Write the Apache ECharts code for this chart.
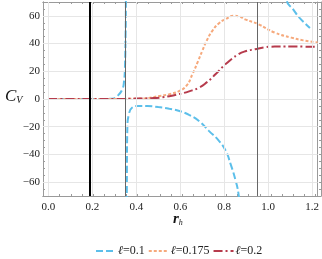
<!DOCTYPE html>
<html><head><meta charset="utf-8">
<script src="https://cdn.jsdelivr.net/npm/echarts@6/dist/echarts.min.js"></script>
<style>html,body{margin:0;padding:0;background:#fff}#c{width:322px;height:259px}</style>
</head><body><div id="c"></div>
<script>
// ---- data ----
// ℓ = 0.1 (three visible branches)
const rBlueA = [0, 0.05, 0.1, 0.15, 0.2, 0.25, 0.28, 0.291, 0.314, 0.336, 0.344, 0.348, 0.351, 0.352, 0.3535];
const cBlueA = [0, 0, 0, 0, 0, 0.05, 0.1, 0.2, 2.2, 7, 13, 22.6, 47, 58, 140];
const rBlueB = [0.3555, 0.357, 0.359, 0.366, 0.38, 0.411, 0.45, 0.5, 0.55, 0.596, 0.64, 0.685, 0.73, 0.775, 0.807, 0.829, 0.852, 0.865, 0.872];
const cBlueB = [-140, -50, -20.7, -11, -6.3, -5, -5.1, -5.8, -7, -8.7, -11.5, -15.9, -23, -30, -37.5, -47, -59, -68.6, -80];
const rBlueC = [1.078, 1.085, 1.113, 1.142, 1.18, 1.19];
const cBlueC = [85, 70.8, 64.8, 58.7, 52.7, 51.2];
// ℓ = 0.175
const rOrange = [0, 0.1, 0.2, 0.3, 0.4, 0.456, 0.506, 0.55, 0.596, 0.63, 0.655, 0.68, 0.70, 0.72, 0.745, 0.775, 0.805, 0.843, 0.87, 0.895, 0.955, 1.03, 1.105, 1.16, 1.225];
const cOrange = [0, 0, 0, 0, 0.3, 0.8, 2.2, 3.5, 5.8, 10, 17.8, 27, 34.7, 42, 49, 54.5, 57.5, 60, 59.5, 57.5, 54, 47.9, 44.3, 42.3, 40.7];
// ℓ = 0.2
const rRed = [0, 0.1, 0.2, 0.3, 0.4, 0.47, 0.506, 0.55, 0.596, 0.64, 0.685, 0.72, 0.76, 0.805, 0.865, 0.9, 0.94, 0.98, 1.03, 1.1, 1.16, 1.225];
const cRed = [0, 0, 0, 0, 0.3, 0.6, 1, 2, 3.6, 5.5, 8.2, 12, 17.8, 25, 32.3, 34.6, 35.9, 37.2, 37.8, 37.9, 37.8, 37.7];
// vertical reference lines
const vBlack = [0.194];
const vGray = [0.354, 0.95];
// ticks
const xMajor = [0, 0.2, 0.4, 0.6, 0.8, 1.0, 1.2];
const xMinor = [0, 0.05, 0.1, 0.15, 0.2, 0.25, 0.3, 0.35, 0.4, 0.45, 0.5, 0.55, 0.6, 0.65, 0.7, 0.75, 0.8, 0.85, 0.9, 0.95, 1.0, 1.05, 1.1, 1.15, 1.2];
const yMajor = [-60, -40, -20, 0, 20, 40, 60];
const yMinor = [-70, -65, -60, -55, -50, -45, -40, -35, -30, -25, -20, -15, -10, -5, 0, 5, 10, 15, 20, 25, 30, 35, 40, 45, 50, 55, 60, 65, 70];
const names = ['ℓ=0.1', 'ℓ=0.175', 'ℓ=0.2'];

const zip = (a, b) => a.map((v, i) => [v, b[i]]);
const FONT = '"Liberation Serif","DejaVu Serif",serif';
const FRAME = '#9a9a9a';
const BLUE = '#5cbfea', ORANGE = '#f6a97c', RED = '#b63b4c';

function xAx(grid, pos, ticks, len, labels) {
  return {
    type: 'value', gridIndex: grid, position: pos, min: -0.025, max: 1.225,
    axisLine: {show: true, onZero: false, lineStyle: {color: FRAME, width: 1}},
    axisTick: {show: true, inside: true, length: len, customValues: ticks, lineStyle: {color: FRAME}},
    axisLabel: labels ? {show: true, customValues: ticks, margin: 6, color: '#222', fontFamily: FONT, fontSize: 11,
      formatter: v => v.toFixed(1)} : {show: false},
    splitLine: {show: false}
  };
}
function yAx(grid, pos, ticks, len, labels) {
  return {
    type: 'value', gridIndex: grid, position: pos, min: -70, max: 70,
    axisLine: {show: true, onZero: false, lineStyle: {color: FRAME, width: 1}},
    axisTick: {show: true, inside: true, length: len, customValues: ticks, lineStyle: {color: FRAME}},
    axisLabel: labels ? {show: true, customValues: ticks, margin: 3, color: '#222', fontFamily: FONT, fontSize: 11,
      formatter: v => (v < 0 ? '\u2212' + Math.abs(v) : String(v))} : {show: false},
    splitLine: {show: false}
  };
}

const gridLines = [];
xMajor.forEach(v => gridLines.push({xAxis: v, lineStyle: {color: '#e6e6e6', width: 1, type: 'solid'}}));
yMajor.forEach(v => gridLines.push({yAxis: v, lineStyle: {color: '#e6e6e6', width: 1, type: 'solid'}}));
vGray.forEach(v => gridLines.push({xAxis: v, lineStyle: {color: '#666', width: 1, type: 'solid'}}));
vBlack.forEach(v => gridLines.push({xAxis: v, lineStyle: {color: '#000', width: 2, type: 'solid'}}));

const lineBase = {type: 'line', xAxisIndex: 0, yAxisIndex: 0, showSymbol: false, symbol: 'none',
  smooth: 0.5, clip: true, z: 3};
const blueStyle = {color: BLUE, width: 2, type: [7, 3]};
const orangeStyle = {color: ORANGE, width: 2, type: [3, 2]};
const redStyle = {color: RED, width: 2, type: [9, 3, 2, 3]};

const chart = echarts.init(document.getElementById('c'), null, {renderer: 'canvas'});
chart.setOption({
  animation: false,
  backgroundColor: '#fff',
  grid: [
    {left: 43, right: 1, top: 2, bottom: 63},
    {left: 43, right: 1, top: 2, bottom: 63}
  ],
  xAxis: [xAx(0, 'bottom', xMajor, 4, true), xAx(0, 'top', xMajor, 4, false),
          xAx(1, 'bottom', xMinor, 2, false), xAx(1, 'top', xMinor, 2, false)],
  yAxis: [yAx(0, 'left', yMajor, 4, true), yAx(0, 'right', yMajor, 4, false),
          yAx(1, 'left', yMinor, 2, false), yAx(1, 'right', yMinor, 2, false)],
  legend: {
    data: names, left: 90, top: 240, itemWidth: 20, itemHeight: 8, itemGap: 3,
    itemStyle: {opacity: 0},
    formatter: n => '{i|ℓ}' + n.slice(1),
    textStyle: {fontFamily: FONT, fontSize: 12, color: '#222', padding: [0, 0, 0, -3],
      rich: {i: {fontFamily: FONT, fontStyle: 'italic', fontSize: 12, color: '#222'}}}
  },
  graphic: [
    {type: 'text', left: 5, top: 88, style: {
      text: '{c|C}{s|V}', rich: {
        c: {fontFamily: FONT, fontStyle: 'italic', fontSize: 17, fill: '#111'},
        s: {fontFamily: FONT, fontStyle: 'italic', fontSize: 10, fill: '#111', padding: [8, 0, 0, 0]}
      }}},
    {type: 'text', left: 173, top: 212, style: {
      text: '{c|r}{s|h}', rich: {
        c: {fontFamily: FONT, fontStyle: 'italic', fontWeight: 'bold', fontSize: 15, fill: '#111'},
        s: {fontFamily: FONT, fontStyle: 'italic', fontSize: 8, fill: '#111', padding: [7, 0, 0, 0]}
      }}}
  ],
  series: [
    {type: 'line', name: 'frame', xAxisIndex: 0, yAxisIndex: 0, data: [[0, 0]], symbol: 'none',
      lineStyle: {opacity: 0}, silent: true, z: 1,
      markLine: {silent: true, symbol: ['none', 'none'], label: {show: false}, animation: false, data: gridLines}},
    Object.assign({}, lineBase, {name: names[0], data: zip(rBlueA, cBlueA), lineStyle: blueStyle, itemStyle: {color: BLUE}}),
    Object.assign({}, lineBase, {name: names[0], data: zip(rBlueB, cBlueB), lineStyle: blueStyle, itemStyle: {color: BLUE}}),
    Object.assign({}, lineBase, {name: names[0], data: zip(rBlueC, cBlueC), lineStyle: blueStyle, itemStyle: {color: BLUE}}),
    Object.assign({}, lineBase, {name: names[1], data: zip(rOrange, cOrange), lineStyle: orangeStyle, itemStyle: {color: ORANGE}}),
    Object.assign({}, lineBase, {name: names[2], data: zip(rRed, cRed), lineStyle: redStyle, itemStyle: {color: RED}})
  ]
});
</script>
</body></html>
